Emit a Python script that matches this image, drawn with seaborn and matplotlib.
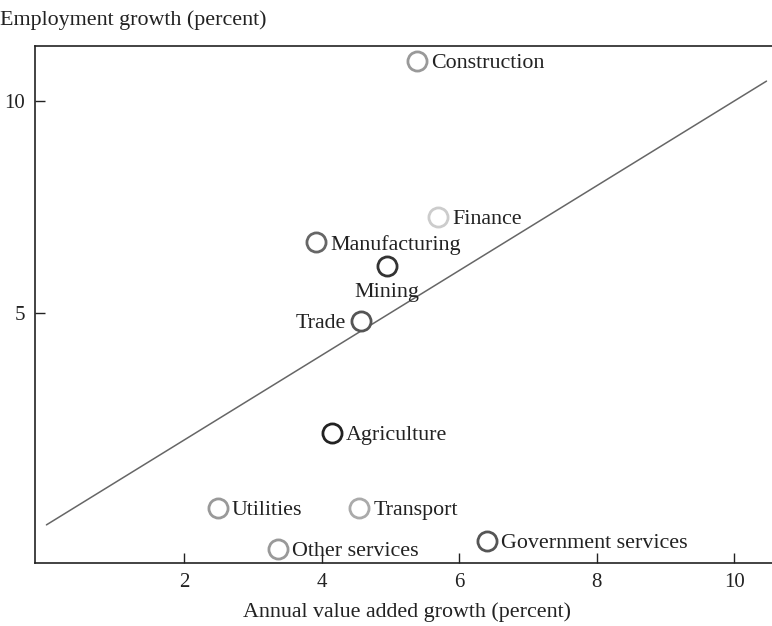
import matplotlib
matplotlib.use("Agg")
import matplotlib.pyplot as plt
import seaborn as sns
import pandas as pd

# Sector data
sectors = ["Construction", "Finance", "Manufacturing", "Mining", "Trade",
           "Agriculture", "Utilities", "Transport", "Other services",
           "Government services"]
value_added = [5.39, 5.70, 3.92, 4.95, 4.58, 4.15, 2.49, 4.55, 3.37, 6.41]
employment = [10.94, 7.26, 6.67, 6.11, 4.81, 2.17, 0.40, 0.40, -0.57, -0.38]
edge_colors = ["#999999", "#cccccc", "#666666", "#333333", "#555555",
               "#222222", "#999999", "#aaaaaa", "#999999", "#555555"]

# Fitted line endpoints
fit_x = [0.0, 10.47]
fit_y = [0.0, 10.47]

df = pd.DataFrame({"sector": sectors, "va": value_added, "emp": employment})

sns.set_theme(style="ticks")
plt.rcParams["font.family"] = ["Liberation Serif", "DejaVu Serif"]

fig = plt.figure(figsize=(7.72, 6.26), dpi=100)
ax = fig.add_axes([0.045, 0.1006, 0.955, 0.826])

sns.lineplot(x=fit_x, y=fit_y, ax=ax, color="#666666", linewidth=1.1)

for i, row in df.iterrows():
    ax.scatter(row["va"], row["emp"], s=190, facecolors="white",
               edgecolors=edge_colors[i], linewidths=2.0, zorder=3)

# label placement: default right of the point
offsets = {"Mining": (0, -12, "center", "top"),
           "Trade": (-11, -2, "right", "center")}
for _, row in df.iterrows():
    dx, dy, ha, va = offsets.get(row["sector"], (10, -2, "left", "center"))
    ax.annotate(row["sector"], (row["va"], row["emp"]), xytext=(dx, dy),
                textcoords="offset points", ha=ha, va=va,
                fontsize=15.8, color="#222222")

ax.set_xlim(-0.17, 10.55)
ax.set_ylim(-0.9, 11.3)
ax.set_xticks([2, 4, 6, 8, 10])
ax.set_yticks([5, 10])
ax.tick_params(direction="in", length=7, width=1, labelsize=15,
               colors="#222222", pad=7)
for side in ["left", "bottom", "top"]:
    ax.spines[side].set_color("#222222")
    ax.spines[side].set_linewidth(1.2)
ax.spines["right"].set_visible(False)

ax.set_xlabel("")
ax.set_ylabel("")
fig.text(0.0, 0.968, "Employment growth (percent)", fontsize=15.8,
         ha="left", va="center", color="#222222")
fig.text(0.527, 0.022, "Annual value added growth (percent)", fontsize=15.8,
         ha="center", va="center", color="#222222")

fig.savefig("out.png", dpi=100)
